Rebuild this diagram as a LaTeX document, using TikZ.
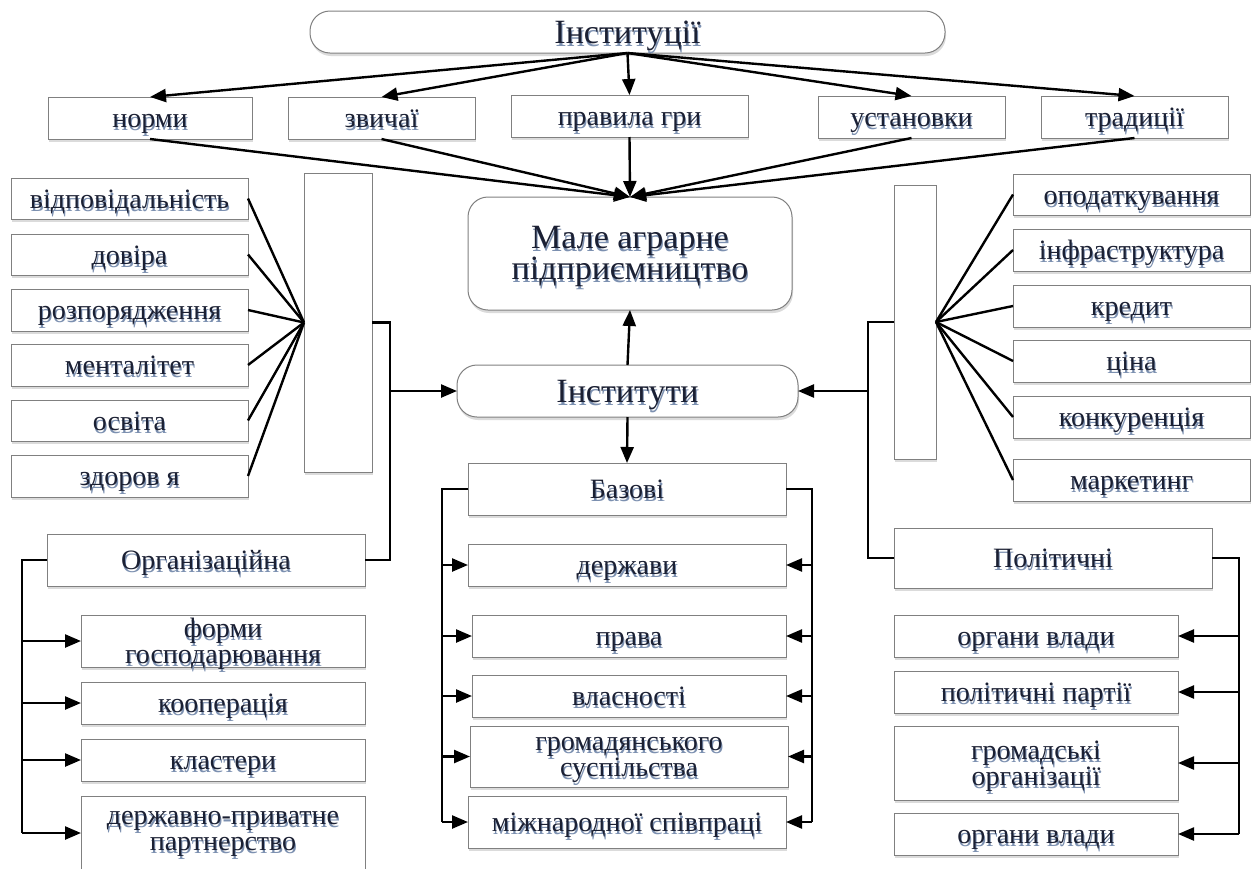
\documentclass[tikz,border=0pt]{standalone}
\usepackage{fontspec}
\setmainfont{Liberation Serif}
\usetikzlibrary{arrows.meta,shadows}
\definecolor{ink}{HTML}{1B2033}
\definecolor{inkshade}{HTML}{7C90B0}
\definecolor{frame}{HTML}{808080}
\tikzset{
  box/.style={draw=frame, line width=1pt, fill=white, inner sep=0pt, outer sep=0pt,
    drop shadow={shadow xshift=1pt, shadow yshift=-3pt, fill=black!14, opacity=1}},
  pill/.style={box, rounded corners=20pt},
  basetxt/.style={text=ink, align=center, inner sep=0pt, font=\fontsize{28}{26}\selectfont},
  txt/.style={basetxt, text height=19pt, text depth=6pt},
  mtxt/.style={basetxt},
  bigtxt/.style={basetxt, text height=23pt, text depth=7pt, font=\fontsize{34}{31}\selectfont},
  bigmtxt/.style={basetxt, font=\fontsize{34}{31}\selectfont},
  link/.style={line width=2.4pt, draw=black},
  arr/.style={link, -{Triangle[length=16pt,width=13pt]}},
}
% box from its corners: [style]{name}{x1}{y1}{x2}{y2}
\newcommand\bx[6][box]{%
  \pgfmathsetmacro\bxW{#5-#3}\pgfmathsetmacro\bxH{#6-#4}%
  \pgfmathsetmacro\bxX{(#3+#5)/2}\pgfmathsetmacro\bxY{(#4+#6)/2}%
  \node[#1, minimum width=\bxW pt, minimum height=\bxH pt] (#2) at (\bxX,\bxY) {};}
% text with a soft blue shade just under it, a little below the centre of a node
\newcommand\tx[3][txt]{%
  \node[#1, text=inkshade] at ([shift={(1,6)}]#2.center) {#3};
  \node[#1] at ([shift={(0,3)}]#2.center) {#3};}
\begin{document}
\begin{tikzpicture}[x=1pt,y=-1pt]
\useasboundingbox (0,0) rectangle (1257,868);
\fill[white] (0,0) rectangle (1257,868);
\clip (0,0) rectangle (1257,868);

% top level
\bx[pill]{ttl}{310}{11}{945}{53}
\bx{norm}{48}{97}{252}{139}
\bx{zvy}{288}{97}{475}{139}
\bx{prav}{511}{95}{748}{137}
\bx{ust}{818}{96}{1005}{138}
\bx{trad}{1041}{96}{1228}{138}
\bx[pill]{mal}{468}{197}{792}{310}
\bx[pill]{inst}{457}{365}{798}{417}

% left column
\bx{tl}{304}{173}{372}{472}
\bx{l1}{11}{178}{248}{219}
\bx{l2}{11}{234}{248}{275}
\bx{l3}{11}{289}{248}{331}
\bx{l4}{11}{344}{248}{386}
\bx{l5}{11}{400}{248}{441}
\bx{l6}{11}{455}{248}{497}

% right column
\bx{tr}{894}{185}{936}{459}
\bx{r1}{1013}{174}{1250}{215}
\bx{r2}{1013}{229}{1250}{271}
\bx{r3}{1013}{285}{1250}{327}
\bx{r4}{1013}{340}{1250}{382}
\bx{r5}{1013}{396}{1250}{438}
\bx{r6}{1013}{459}{1250}{501}

% organisational group
\bx{org}{47}{534}{365}{586}
\bx{o1}{81}{615}{365}{667}
\bx{o2}{81}{682}{365}{724}
\bx{o3}{81}{739}{365}{781}
\bx{o4}{81}{796}{365}{870}

% basic group
\bx{baz}{468}{463}{786}{515}
\bx{b1}{468}{544}{786}{586}
\bx{b2}{472}{615}{786}{657}
\bx{b3}{472}{675}{786}{717}
\bx{b4}{470}{726}{788}{787}
\bx{b5}{468}{796}{786}{848}

% political group
\bx{pol}{894}{528}{1212}{588}
\bx{p1}{894}{615}{1178}{657}
\bx{p2}{894}{671}{1178}{713}
\bx{p3}{894}{726}{1178}{800}
\bx{p4}{894}{813}{1178}{855}

% texts
\tx[bigtxt]{ttl}{Інституції}
\tx{norm}{норми}
\tx{zvy}{звичаї}
\tx{prav}{правила гри}
\tx{ust}{установки}
\tx{trad}{традиції}
\tx[bigmtxt]{mal}{Мале аграрне\\підприємництво}
\tx[bigtxt]{inst}{Інститути}
\tx{l1}{відповідальність}
\tx{l2}{довіра}
\tx{l3}{розпорядження}
\tx{l4}{менталітет}
\tx{l5}{освіта}
\tx{l6}{здоров я}
\tx{r1}{оподаткування}
\tx{r2}{інфраструктура}
\tx{r3}{кредит}
\tx{r4}{ціна}
\tx{r5}{конкуренція}
\tx{r6}{маркетинг}
\tx{org}{Організаційна}
\tx[mtxt]{o1}{форми\\господарювання}
\tx{o2}{кооперація}
\tx{o3}{кластери}
\coordinate (o4c) at (223,831);
\tx[mtxt]{o4c}{державно-приватне\\партнерство}
\tx{baz}{Базові}
\tx{b1}{держави}
\tx{b2}{права}
\tx{b3}{власності}
\tx[mtxt]{b4}{громадянського\\суспільства}
\tx{b5}{міжнародної співпраці}
\tx{pol}{Політичні}
\tx{p1}{органи влади}
\tx{p2}{політичні партії}
\tx[mtxt]{p3}{громадські\\організації}
\tx{p4}{органи влади}

% institutions to their kinds, kinds to the enterprise
\foreach \n in {norm,zvy,prav,ust,trad}{
  \draw[arr] (ttl.south) -- (\n.north);
  \draw[arr] (\n.south) -- (mal.north);
}
\draw[arr] (inst.north) -- (mal.south);
\draw[arr] (inst.south) -- (baz.north);

% fans into the side columns
\foreach \n in {l1,l2,l3,l4,l5,l6} \draw[link] (\n.east) -- (tl.west);
\foreach \n in {r1,r2,r3,r4,r5,r6} \draw[link] (tr.east) -- (\n.west);

% side buses into the institutes
\coordinate (lbus) at (390,391);
\coordinate (rbus) at (868,391);
\draw[link] (tl.east) -| (lbus) |- (org.east);
\draw[arr] (lbus) -- (inst.west);
\draw[link] (tr.west) -| (rbus) |- (pol.west);
\draw[arr] (rbus) -- (inst.east);

% organisational branch
\coordinate (ob) at (22,560);
\draw[link] (org.west) -- (ob) -- (ob |- o4.west);
\foreach \n in {o1,o2,o3,o4} \draw[arr] (ob |- \n.west) -- (\n.west);

% basic branch, both sides
\coordinate (bl) at (442,489);
\coordinate (br) at (812,489);
\draw[link] (baz.west) -- (bl) -- (bl |- b5.west);
\draw[link] (baz.east) -- (br) -- (br |- b5.east);
\foreach \n in {b1,b2,b3,b4,b5}{
  \draw[arr] (bl |- \n.west) -- (\n.west);
  \draw[arr] (br |- \n.east) -- (\n.east);
}

% political branch
\coordinate (pb) at (1239,558);
\draw[link] (pol.east) -- (pb) -- (pb |- p4.east);
\foreach \n in {p1,p2,p3,p4} \draw[arr] (pb |- \n.east) -- (\n.east);
\end{tikzpicture}
\end{document}
